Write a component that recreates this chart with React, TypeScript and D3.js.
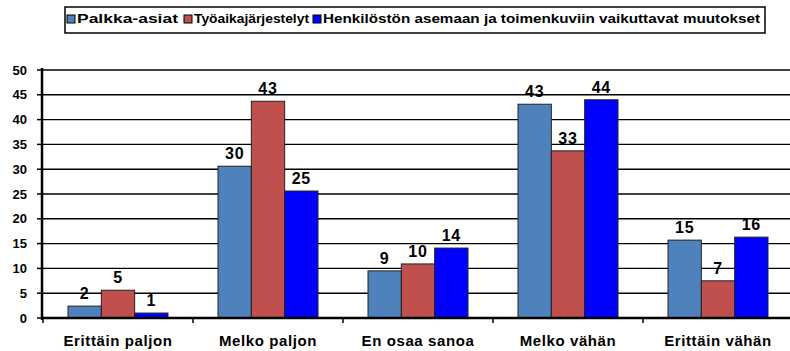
import React from "react";
import * as d3 from "d3";

const categories = ["Erittäin paljon", "Melko paljon", "En osaa sanoa", "Melko vähän", "Erittäin vähän"];
const seriesNames = ["Palkka-asiat", "Työaikajärjestelyt", "Henkilöstön asemaan ja toimenkuviin vaikuttavat muutokset"];
const palkka = [2.4, 30.6, 9.5, 43.1, 15.7];
const tyoaika = [5.6, 43.7, 10.9, 33.7, 7.5];
const henkilosto = [1.0, 25.6, 14.1, 44.0, 16.3];
const seriesColors = ["#4F81BD", "#C0504D", "#0000FF"];
const yTicks = [0, 5, 10, 15, 20, 25, 30, 35, 40, 45, 50];

const W = 790;
const H = 351;
const font = "'Liberation Sans', Arial, sans-serif";

export default function App() {
  const series = [palkka, tyoaika, henkilosto];
  const x0 = d3.scaleBand<string>().domain(categories).range([43, 793]).paddingInner(0).paddingOuter(0);
  const x1 = d3.scaleBand<number>().domain([0, 1, 2]).range([0, x0.bandwidth()]).paddingOuter(0.75).paddingInner(0);
  const y = d3.scaleLinear().domain([0, 50]).range([318, 70]);

  const legendItems = [
    { sx: 67, tx: 77, tw: 101 },
    { sx: 184, tx: 194, tw: 115 },
    { sx: 313, tx: 323, tw: 437 },
  ];

  return (
    <svg width={W} height={H} style={{ position: "absolute", left: 0, top: 0, background: "#fff" }} fontFamily={font}>
      {/* gridlines */}
      {yTicks.map((t) => (
        <line key={"g" + t} x1={42} x2={W} y1={y(t)} y2={y(t)} stroke="#000" strokeWidth={1.4} />
      ))}
      {/* y ticks and labels */}
      {yTicks.map((t) => (
        <g key={"t" + t}>
          <line x1={37} x2={42} y1={y(t)} y2={y(t)} stroke="#000" strokeWidth={1.5} />
          <text x={27} y={y(t)} dy="0.35em" textAnchor="end" fontSize={13} fontWeight="bold" fill="#000">
            {t}
          </text>
        </g>
      ))}
      {/* bars */}
      {categories.map((c, ci) => (
        <g key={c} transform={`translate(${x0(c)},0)`}>
          {series.map((s, si) => {
            const bx = x1(si)!;
            const bw = x1.bandwidth();
            return (
              <g key={si}>
                <rect x={bx} y={y(s[ci])} width={bw} height={y(0) - y(s[ci])} fill={seriesColors[si]} stroke="#222" strokeWidth={1} />
                <text x={bx + bw / 2} y={y(s[ci]) - 7} textAnchor="middle" fontSize={16} fontWeight="bold" letterSpacing={0.8} fill="#000">
                  {Math.floor(s[ci])}
                </text>
              </g>
            );
          })}
        </g>
      ))}
      {/* axes */}
      <line x1={42} x2={42} y1={68} y2={320} stroke="#000" strokeWidth={2.5} />
      <line x1={42} x2={W} y1={318} y2={318} stroke="#000" strokeWidth={2.5} />
      {[...categories.map((c) => x0(c)!), 793].map((bx, i) => (
        <line key={"xt" + i} x1={bx} x2={bx} y1={318} y2={323} stroke="#000" strokeWidth={1.5} />
      ))}
      {categories.map((c) => (
        <text key={"xl" + c} x={x0(c)! + x0.bandwidth() / 2} y={346} textAnchor="middle" fontSize={15} fontWeight="bold" letterSpacing={0.6} fill="#000">
          {c}
        </text>
      ))}
      {/* legend */}
      <rect x={65} y={7} width={700} height={26} fill="#fff" stroke="#000" strokeWidth={1.5} />
      {seriesNames.map((n, i) => (
        <g key={n}>
          <rect x={legendItems[i].sx} y={15} width={8} height={8} fill={seriesColors[i]} stroke="#000" strokeWidth={1} />
          <text x={legendItems[i].tx} y={19} dy="0.35em" fontSize={12} fontWeight="bold" fill="#000" textLength={legendItems[i].tw} lengthAdjust="spacingAndGlyphs">
            {n}
          </text>
        </g>
      ))}
    </svg>
  );
}
